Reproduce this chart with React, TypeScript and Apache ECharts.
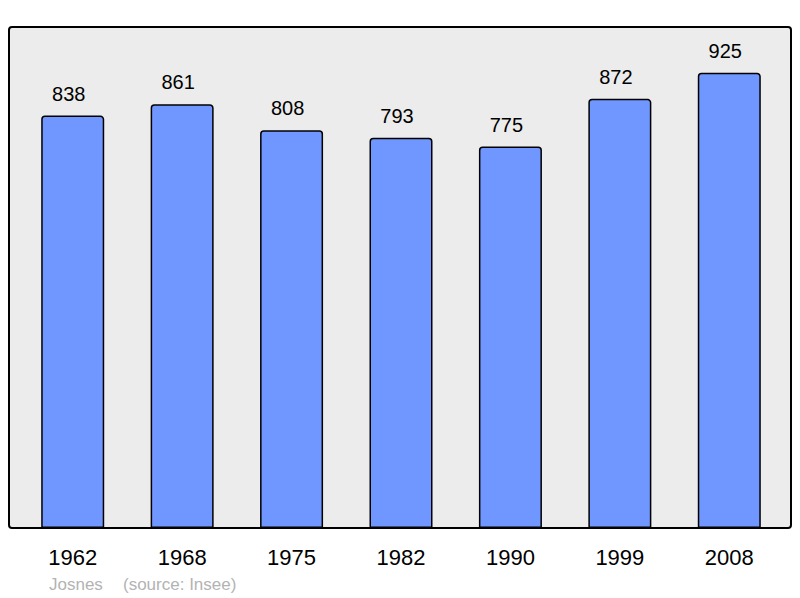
import React, { useEffect, useRef } from "react";
import * as echarts from "echarts";

const years = ["1962", "1968", "1975", "1982", "1990", "1999", "2008"];
const population = [838, 861, 808, 793, 775, 872, 925];
const footerAuthor = "Josnes";
const footerSource = "(source: Insee)";

const FONT = "'Liberation Sans', Arial, sans-serif";

export default function App() {
  const ref = useRef<HTMLDivElement>(null);
  useEffect(() => {
    if (!ref.current) return;
    const chart = echarts.init(ref.current, undefined, { renderer: "svg" });
    chart.setOption({
      animation: false,
      backgroundColor: "#ffffff",
      grid: { left: 18, right: 16, top: 27, bottom: 70, containLabel: false },
      graphic: [
        {
          type: "rect",
          z: -1,
          shape: { x: 9, y: 27, width: 782, height: 501, r: 3 },
          style: { fill: "#ececec", stroke: "#000000", lineWidth: 2 },
        },
        {
          type: "text",
          x: 49,
          y: 584,
          style: {
            text: footerAuthor,
            font: `17px ${FONT}`,
            fill: "#b3b3b3",
            verticalAlign: "middle",
          },
        },
        {
          type: "text",
          x: 123,
          y: 584,
          style: {
            text: footerSource,
            font: `17px ${FONT}`,
            fill: "#b3b3b3",
            verticalAlign: "middle",
          },
        },
      ],
      xAxis: {
        type: "category",
        data: years,
        axisLine: { show: false },
        axisTick: { show: false },
        axisLabel: { color: "#000", fontSize: 22, fontFamily: FONT, margin: 18 },
      },
      yAxis: {
        type: "value",
        min: 0,
        max: 1018,
        show: false,
        splitLine: { show: false },
      },
      series: [
        {
          type: "bar",
          data: population,
          barWidth: 63,
          itemStyle: {
            color: "#7096ff",
            borderColor: "#000000",
            borderWidth: 1.5,
            borderRadius: [3, 3, 0, 0],
          },
          label: {
            show: true,
            position: "top",
            distance: 12,
            offset: [-4, 0],
            color: "#000",
            fontSize: 20,
            fontFamily: FONT,
          },
        },
      ],
    });
    return () => chart.dispose();
  }, []);
  return <div ref={ref} style={{ width: 800, height: 598, position: "absolute", left: 0, top: 0 }} />;
}
